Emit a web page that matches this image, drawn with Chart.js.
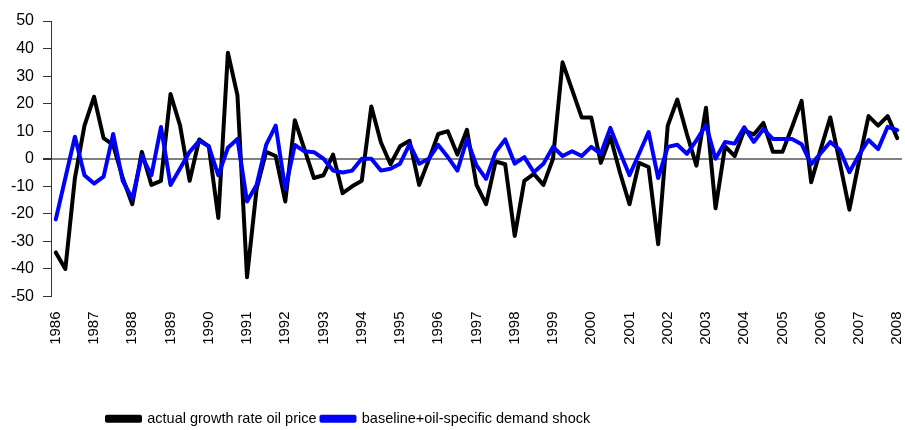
<!DOCTYPE html>
<html>
<head>
<meta charset="utf-8">
<script src="https://cdn.jsdelivr.net/npm/chart.js@4.4.1/dist/chart.umd.min.js"></script>
<style>
  html, body { margin: 0; padding: 0; background: #fff; }
  #wrap { width: 905px; height: 430px; }
</style>
</head>
<body>
<div id="wrap"><canvas id="oilChart"></canvas></div>
<script>
// Data, one value per quarter, 1986Q1 - 2008Q1
const years = ['1986', '1987', '1988', '1989', '1990', '1991', '1992', '1993', '1994', '1995', '1996', '1997',
    '1998', '1999', '2000', '2001', '2002', '2003', '2004', '2005', '2006', '2007', '2008'];

const actualGrowth = [
    -34, -40, -7, 12, 22.5, 7.5, 5, -7,
    -16.5, 2.5, -9.5, -8, 23.5, 12, -8, 7,
    4.5, -21.5, 38.5, 23, -43, -11, 2.5, 1,
    -15.5, 14, 3.5, -7, -6, 1.5, -12.5, -10,
    -8, 19, 6, -2, 4.5, 6.5, -9.5, -0.5,
    9, 10, 1.5, 10.5, -9.5, -16.5, -1, -2,
    -28, -8, -5.5, -9.5, 0, 35, 25, 15,
    15, -1.5, 8, -5, -16.5, -1.5, -3, -31,
    12, 21.5, 9, -2.5, 18.5, -18, 4.5, 1,
    10.3, 8.8, 13, 2.5, 2.5, 11.5, 21, -8.5,
    3.5, 15, -1.5, -18.5, -1, 15.5, 12, 15.5,
    7.5
];

const demandShock = [
    -22, -7, 8, -6, -9, -6.5, 9, -8,
    -14.5, 1, -6, 11.5, -9.5, -3.5, 2.5, 6.5,
    4.5, -6, 4, 7.2, -15.5, -9.5, 5, 12,
    -11, 5, 2.7, 2.4, 0, -4.3, -5, -4.3,
    0, 0, -4.3, -3.6, -1.8, 5.3, -1.8, 0,
    5, 0.6, -4.3, 7, -2.4, -7.3, 2.4, 7,
    -1.8, 0.6, -4.9, -1.8, 4.3, 1, 2.7, 1,
    4.3, 1.8, 11.2, 2.4, -6, 1.8, 9.7, -7,
    4.3, 5.1, 1.8, 6.7, 12.2, 0, 6.1, 5.5,
    11.4, 6.1, 10.7, 7.2, 7.2, 7.2, 5.3, -2,
    2, 6.1, 3.2, -4.9, 1.4, 6.8, 3.5, 11.6,
    10.4
];

const yTicks = [-50, -40, -30, -20, -10, 0, 10, 20, 30, 40, 50];

// quarter labels, only Q1 gets shown as the year
const quarters = [];
years.forEach((y, i) => {
    const n = i === years.length - 1 ? 1 : 4;
    for (let q = 1; q <= n; q++) quarters.push(y + 'Q' + q);
});

const font = '"Liberation Sans", Arial, sans-serif';

// legend sits left of centre in the original
const legendShift = {
    id: 'legendShift',
    afterLayout(chart) {
        chart.legend.left = 102;
    }
};

const ctx = document.getElementById('oilChart').getContext('2d');
new Chart(ctx, {
    type: 'line',
    data: {
        labels: quarters,
        datasets: [{
            label: 'actual growth rate oil price',
            data: actualGrowth,
            borderColor: '#000000',
            backgroundColor: '#000000',
            borderWidth: 4,
            order: 1
        }, {
            label: 'baseline+oil-specific demand shock',
            data: demandShock,
            borderColor: '#0000ff',
            backgroundColor: '#0000ff',
            borderWidth: 4,
            order: 0
        }]
    },
    options: {
        responsive: true,
        maintainAspectRatio: false,
        animation: false,
        layout: { padding: { top: 21, right: 3, bottom: -6, left: 0 } },
        elements: {
            point: { radius: 0 },
            line: { tension: 0, borderJoinStyle: 'round', borderCapStyle: 'round', fill: false }
        },
        plugins: {
            tooltip: { enabled: false },
            legend: {
                position: 'bottom',
                align: 'start',
                labels: {
                    boxWidth: 33,
                    boxHeight: 4,
                    padding: 5,
                    color: '#000',
                    font: { family: font, size: 14.5 },
                    sort: (a, b) => a.datasetIndex - b.datasetIndex
                }
            }
        },
        scales: {
            x: {
                offset: true,
                grid: { display: false, drawTicks: false, offset: true },
                border: { display: false },
                ticks: {
                    autoSkip: false,
                    maxRotation: 90,
                    minRotation: 90,
                    padding: 15,
                    color: '#000',
                    font: { family: font, size: 15 },
                    callback: function (value, index) {
                        const lbl = quarters[index];
                        return lbl.endsWith('Q1') ? lbl.slice(0, 4) : '';
                    }
                },
                afterFit: function (scale) {
                    scale.height = 110;
                    scale.paddingLeft = 0;
                    scale.paddingRight = 0;
                }
            },
            y: {
                min: -50,
                max: 50,
                afterBuildTicks: function (scale) {
                    scale.ticks = yTicks.map(v => ({ value: v }));
                },
                grid: {
                    drawTicks: true,
                    tickLength: 8,
                    tickColor: '#333',
                    color: c => c.tick && c.tick.value === 0 ? '#808080' : 'rgba(0,0,0,0)',
                    lineWidth: c => c.tick && c.tick.value === 0 ? 2 : 1
                },
                border: { display: true, color: '#333', width: 1 },
                ticks: {
                    padding: 9,
                    color: '#000',
                    font: { family: font, size: 16 }
                },
                afterFit: function (scale) { scale.width = 51; }
            }
        }
    },
    plugins: [legendShift]
});
</script>
</body>
</html>
